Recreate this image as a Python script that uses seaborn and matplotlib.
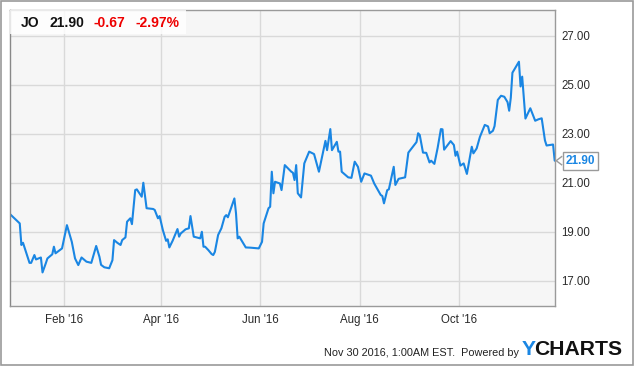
import matplotlib
matplotlib.use("Agg")
import matplotlib.pyplot as plt
import matplotlib.patches as mpatches
import matplotlib.dates as mdates
import pandas as pd
import seaborn as sns

# ---------------- data ----------------
dates = [
    "2015-12-30", "2016-01-05", "2016-01-06", "2016-01-07", "2016-01-11", "2016-01-12",
    "2016-01-14", "2016-01-15", "2016-01-18", "2016-01-19", "2016-01-21", "2016-01-22",
    "2016-01-25", "2016-01-26", "2016-01-27", "2016-01-31", "2016-02-03", "2016-02-06",
    "2016-02-08", "2016-02-10", "2016-02-12", "2016-02-15", "2016-02-18", "2016-02-21",
    "2016-02-23", "2016-02-24", "2016-02-26", "2016-02-29", "2016-03-02", "2016-03-03",
    "2016-03-05", "2016-03-07", "2016-03-08", "2016-03-10", "2016-03-11", "2016-03-13",
    "2016-03-14", "2016-03-16", "2016-03-17", "2016-03-20", "2016-03-21", "2016-03-23",
    "2016-03-27", "2016-03-28", "2016-03-30", "2016-03-31", "2016-04-02", "2016-04-04",
    "2016-04-05", "2016-04-06", "2016-04-08", "2016-04-11", "2016-04-12", "2016-04-13",
    "2016-04-16", "2016-04-18", "2016-04-19", "2016-04-21", "2016-04-25", "2016-04-26",
    "2016-04-27", "2016-04-28", "2016-04-30", "2016-05-02", "2016-05-03", "2016-05-04",
    "2016-05-06", "2016-05-08", "2016-05-10", "2016-05-11", "2016-05-12", "2016-05-16",
    "2016-05-17", "2016-05-18", "2016-05-19", "2016-05-23", "2016-05-26", "2016-05-31",
    "2016-06-02", "2016-06-03", "2016-06-06", "2016-06-07", "2016-06-08", "2016-06-09",
    "2016-06-10", "2016-06-13", "2016-06-14", "2016-06-16", "2016-06-20", "2016-06-21",
    "2016-06-22", "2016-06-23", "2016-06-24", "2016-06-26", "2016-06-28", "2016-07-01",
    "2016-07-04", "2016-07-07", "2016-07-11", "2016-07-12", "2016-07-14", "2016-07-15",
    "2016-07-18", "2016-07-19", "2016-07-20", "2016-07-21", "2016-07-25", "2016-07-27",
    "2016-07-29", "2016-07-31", "2016-08-02", "2016-08-04", "2016-08-07", "2016-08-08",
    "2016-08-10", "2016-08-14", "2016-08-15", "2016-08-16", "2016-08-18", "2016-08-19",
    "2016-08-22", "2016-08-23", "2016-08-25", "2016-08-29", "2016-08-31", "2016-09-05",
    "2016-09-06", "2016-09-07", "2016-09-09", "2016-09-11", "2016-09-13", "2016-09-14",
    "2016-09-16", "2016-09-18", "2016-09-20", "2016-09-21", "2016-09-22", "2016-09-26",
    "2016-09-28", "2016-09-29", "2016-09-30", "2016-10-02", "2016-10-04", "2016-10-06",
    "2016-10-09", "2016-10-10", "2016-10-12", "2016-10-14", "2016-10-17", "2016-10-19",
    "2016-10-20", "2016-10-22", "2016-10-23", "2016-10-25", "2016-10-27", "2016-10-29",
    "2016-10-31", "2016-11-01", "2016-11-02", "2016-11-03", "2016-11-07", "2016-11-08",
    "2016-11-09", "2016-11-11", "2016-11-14", "2016-11-17", "2016-11-19", "2016-11-21",
    "2016-11-23", "2016-11-24", "2016-11-26", "2016-11-28", "2016-11-29",
]
prices = [
    19.72, 19.34, 18.46, 18.55, 17.73, 17.73,
    18.05, 17.87, 17.95, 17.34, 17.71, 17.91,
    18.08, 18.39, 18.12, 18.32, 19.27, 18.59,
    17.91, 17.64, 17.95, 17.78, 17.73, 18.42,
    17.98, 17.65, 17.55, 17.51, 17.84, 18.66,
    18.55, 18.46, 18.66, 18.77, 19.41, 19.55,
    19.31, 20.70, 20.73, 20.43, 21.00, 19.96,
    19.93, 19.89, 19.55, 19.64, 19.07, 18.63,
    18.69, 18.36, 18.63, 19.11, 18.80, 18.93,
    19.10, 19.14, 19.64, 18.80, 18.73, 19.00,
    18.39, 18.39, 18.25, 18.09, 18.05, 18.18,
    18.87, 19.14, 19.61, 19.68, 19.59, 20.36,
    19.75, 18.73, 18.80, 18.36, 18.35, 18.32,
    18.59, 19.34, 19.96, 20.02, 21.45, 20.57,
    21.04, 20.97, 20.70, 21.72, 21.45, 21.41,
    21.11, 21.72, 20.57, 20.40, 21.79, 22.27,
    22.17, 21.45, 22.71, 22.33, 23.19, 22.33,
    22.67, 22.27, 22.27, 21.45, 21.22, 21.20,
    21.86, 21.65, 21.04, 21.38, 21.31, 21.29,
    20.97, 20.50, 20.46, 20.16, 20.70, 20.73,
    21.65, 20.91, 21.16, 21.22, 22.23, 22.66,
    23.02, 22.95, 22.23, 22.22, 21.83, 21.90,
    21.77, 22.42, 23.19, 23.18, 22.35, 22.70,
    22.54, 22.10, 22.27, 21.70, 21.79, 21.36,
    22.47, 22.20, 22.40, 22.87, 23.36, 23.30,
    23.02, 23.12, 23.31, 24.38, 24.55, 24.51,
    24.29, 23.94, 24.47, 25.49, 25.94, 24.93,
    25.33, 23.62, 24.04, 23.53, 23.59, 23.63,
    22.73, 22.52, 22.54, 22.56, 21.90,
]
ticker = "JO"
last_price = "21.90"
change = "-0.67"
change_pct = "-2.97%"
ytick_values = [17, 19, 21, 23, 25, 27]
xtick_dates = ["2016-02-01", "2016-04-01", "2016-06-01", "2016-08-01", "2016-10-01"]
xtick_labels = ["Feb '16", "Apr '16", "Jun '16", "Aug '16", "Oct '16"]
footer_text = "Nov 30 2016, 1:00AM EST.  Powered by"
brand_first = "Y"
brand_rest = "CHARTS"

# ---------------- style ----------------
BLUE = "#1a86e3"
RED = "#ee0000"
sns.set_style("white")
plt.rcParams['font.family'] = ['Liberation Sans', 'DejaVu Sans']

W, H = 635, 366
fig = plt.figure(figsize=(W / 100, H / 100), dpi=100)
fig.patch.set_facecolor("white")

def fx(px):
    return px / W

def fy(py):
    return 1 - py / H

ax = fig.add_axes([fx(10), fy(306), (554.7 - 10) / W, (306 - 10) / H])
ax.set_facecolor("#f6f6f6")

df = pd.DataFrame({"date": pd.to_datetime(dates), "price": prices})
sns.lineplot(data=df, x="date", y="price", ax=ax, color=BLUE, linewidth=1.5)

ax.set_xlim(df["date"].min(), df["date"].max())
ax.set_ylim(15.97, 28.05)

ax.set_yticks(ytick_values)
ax.set_yticklabels([f"{v:.2f}" for v in ytick_values])
ax.yaxis.tick_right()
ax.set_xticks(pd.to_datetime(xtick_dates))
ax.set_xticklabels(xtick_labels)
ax.tick_params(axis="y", length=0, pad=4.5, labelsize=8.3, labelcolor="#2a2a2a")
ax.tick_params(axis="x", length=0, pad=6, labelsize=8.3, labelcolor="#2a2a2a")
ax.set_xlabel("")
ax.set_ylabel("")
ax.grid(True, color="#d9d9d9", linewidth=1)
ax.set_axisbelow(True)
for s in ax.spines.values():
    s.set_color("#9a9a9a")
    s.set_linewidth(1)
ax.spines["left"].set_color("#888888")

# header box
hdr = mpatches.Rectangle((fx(10), fy(34)), (186 - 10) / W, (34 - 10) / H,
                         transform=fig.transFigure, facecolor="white", alpha=0.8,
                         edgecolor="none", zorder=5)
fig.add_artist(hdr)
fig.text(fx(20.5), fy(23), ticker, fontsize=10, weight="bold", color="#111111", va="center", zorder=6)
fig.text(fx(49), fy(23), last_price, fontsize=10, weight="bold", color="#111111", va="center", zorder=6)
fig.text(fx(94), fy(23), change, fontsize=10, weight="bold", color=RED, va="center", zorder=6)
fig.text(fx(135), fy(23), change_pct, fontsize=10, weight="bold", color=RED, va="center", zorder=6)

# last value callout
last_d = df["date"].iloc[-1]
last_v = df["price"].iloc[-1]
ax.annotate(last_price, xy=(last_d, last_v), xytext=(11, 0), textcoords="offset pixels",
            ha="left", va="center", fontsize=8.5, weight="bold", color=BLUE,
            bbox=dict(boxstyle="square,pad=0.25", fc="white", ec="#9a9a9a", lw=1),
            annotation_clip=False, zorder=7)
fig.canvas.draw()
px, py = ax.transData.transform((mdates.date2num(last_d), last_v))
chev = mpatches.Polygon([(px + 7.5, py + 4.5), (px + 1.5, py), (px + 7.5, py - 4.5)],
                        closed=False, fill=False, edgecolor="#9a9a9a", lw=1,
                        transform=None, zorder=8)
fig.add_artist(chev)

# footer
fig.text(fx(519), fy(353), footer_text, ha="right", va="center", fontsize=7.8, color="#222222")
t1 = fig.text(fx(522), fy(349.5), brand_first, ha="left", va="center", fontsize=15.2,
              weight="bold", color=BLUE)
fig.canvas.draw()
bb = t1.get_window_extent()
fig.text((bb.x1 - 1.5) / W, fy(349.5), brand_rest, ha="left", va="center", fontsize=15.2,
         weight="bold", color="#111111")

# outer border
fig.add_artist(mpatches.Rectangle((fx(0.5), fy(365)), (633 - 0.5) / W, (365 - 0.5) / H,
                                  transform=fig.transFigure, fill=False,
                                  edgecolor="#9a9a9a", lw=1.2))

fig.savefig("out.png", dpi=100)
